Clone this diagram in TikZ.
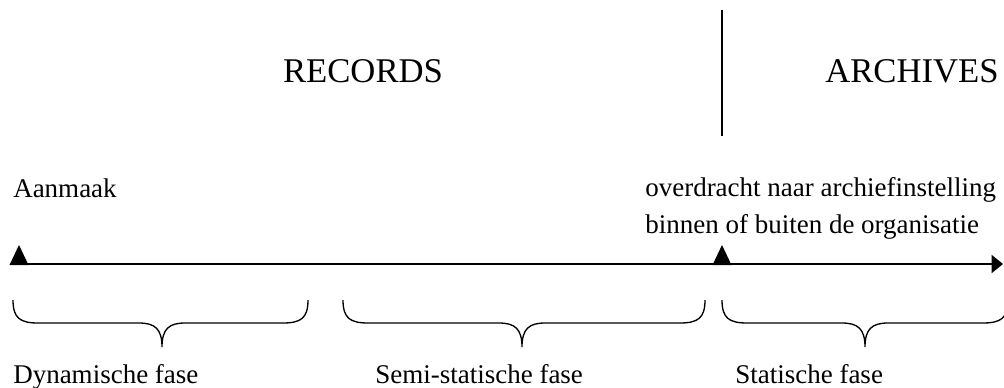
\documentclass[tikz,border=0pt]{standalone}
\usepackage{fontspec}
\setmainfont{Liberation Serif}
\usetikzlibrary{arrows.meta,positioning}

\begin{document}
\begin{tikzpicture} [
x=0.75pt, y=-0.75pt,
head/.style    = { inner sep=0pt, anchor=base,
    font=\fontsize{26}{30}\selectfont },
event/.style   = { inner sep=0pt, anchor=base west, align=left,
    font=\fontsize{20.25}{27.75}\selectfont },
phase/.style   = { inner sep=0pt, anchor=base west,
    font=\fontsize{20.25}{24}\selectfont },
line/.style    = { draw, line width=1.1pt },
brace/.style   = { draw, line width=1pt },
]
\useasboundingbox (0,0) rectangle (1004,387);

% two halves of the life cycle
\node[head] (records)  at (363,82) {RECORDS};
\node[head] (archives) at (912,82) {ARCHIVES};
\coordinate (divtop) at (722,10);
\coordinate (divbot) at (722,136);

% time axis with its two moments
\coordinate (start)    at (19,264);
\coordinate (handover) at (722,264);
\coordinate (end)      at (1003,264);
\node[event] (create) at (13,197) {Aanmaak};
\node[event] (transfer) at (645,233) {overdracht naar archiefinstelling\\binnen of buiten de organisatie};

% phases under the axis
\node[phase] (dyn)  at (13,383)  {Dynamische fase};
\node[phase] (semi) at (375,383) {Semi-statische fase};
\node[phase] (stat) at (735,383) {Statische fase};

% connect all points defined above
\begin{scope} [every path/.style=line]
\path (divtop) -- (divbot);
\path [-{Triangle[length=8.5pt,width=13.5pt]}] (start) -- (end);
\end{scope}
\foreach \pt in {start, handover}
    \fill (\pt) ++(-9.5,1) -- ++(19,0) -- ++(-9.5,-20) -- cycle;

\foreach \a/\m/\b in {13/162/308, 343/522/705, 722/865/1008}
    \path [brace] (\a,300) .. controls (\a,318) and (\a+7,323) .. (\a+25,323)
        -- (\m-23,323) .. controls (\m-7,323) and (\m,329) .. (\m,347)
        .. controls (\m,329) and (\m+7,323) .. (\m+23,323)
        -- (\b-25,323) .. controls (\b-7,323) and (\b,318) .. (\b,300);

\end{tikzpicture}
\end{document}
